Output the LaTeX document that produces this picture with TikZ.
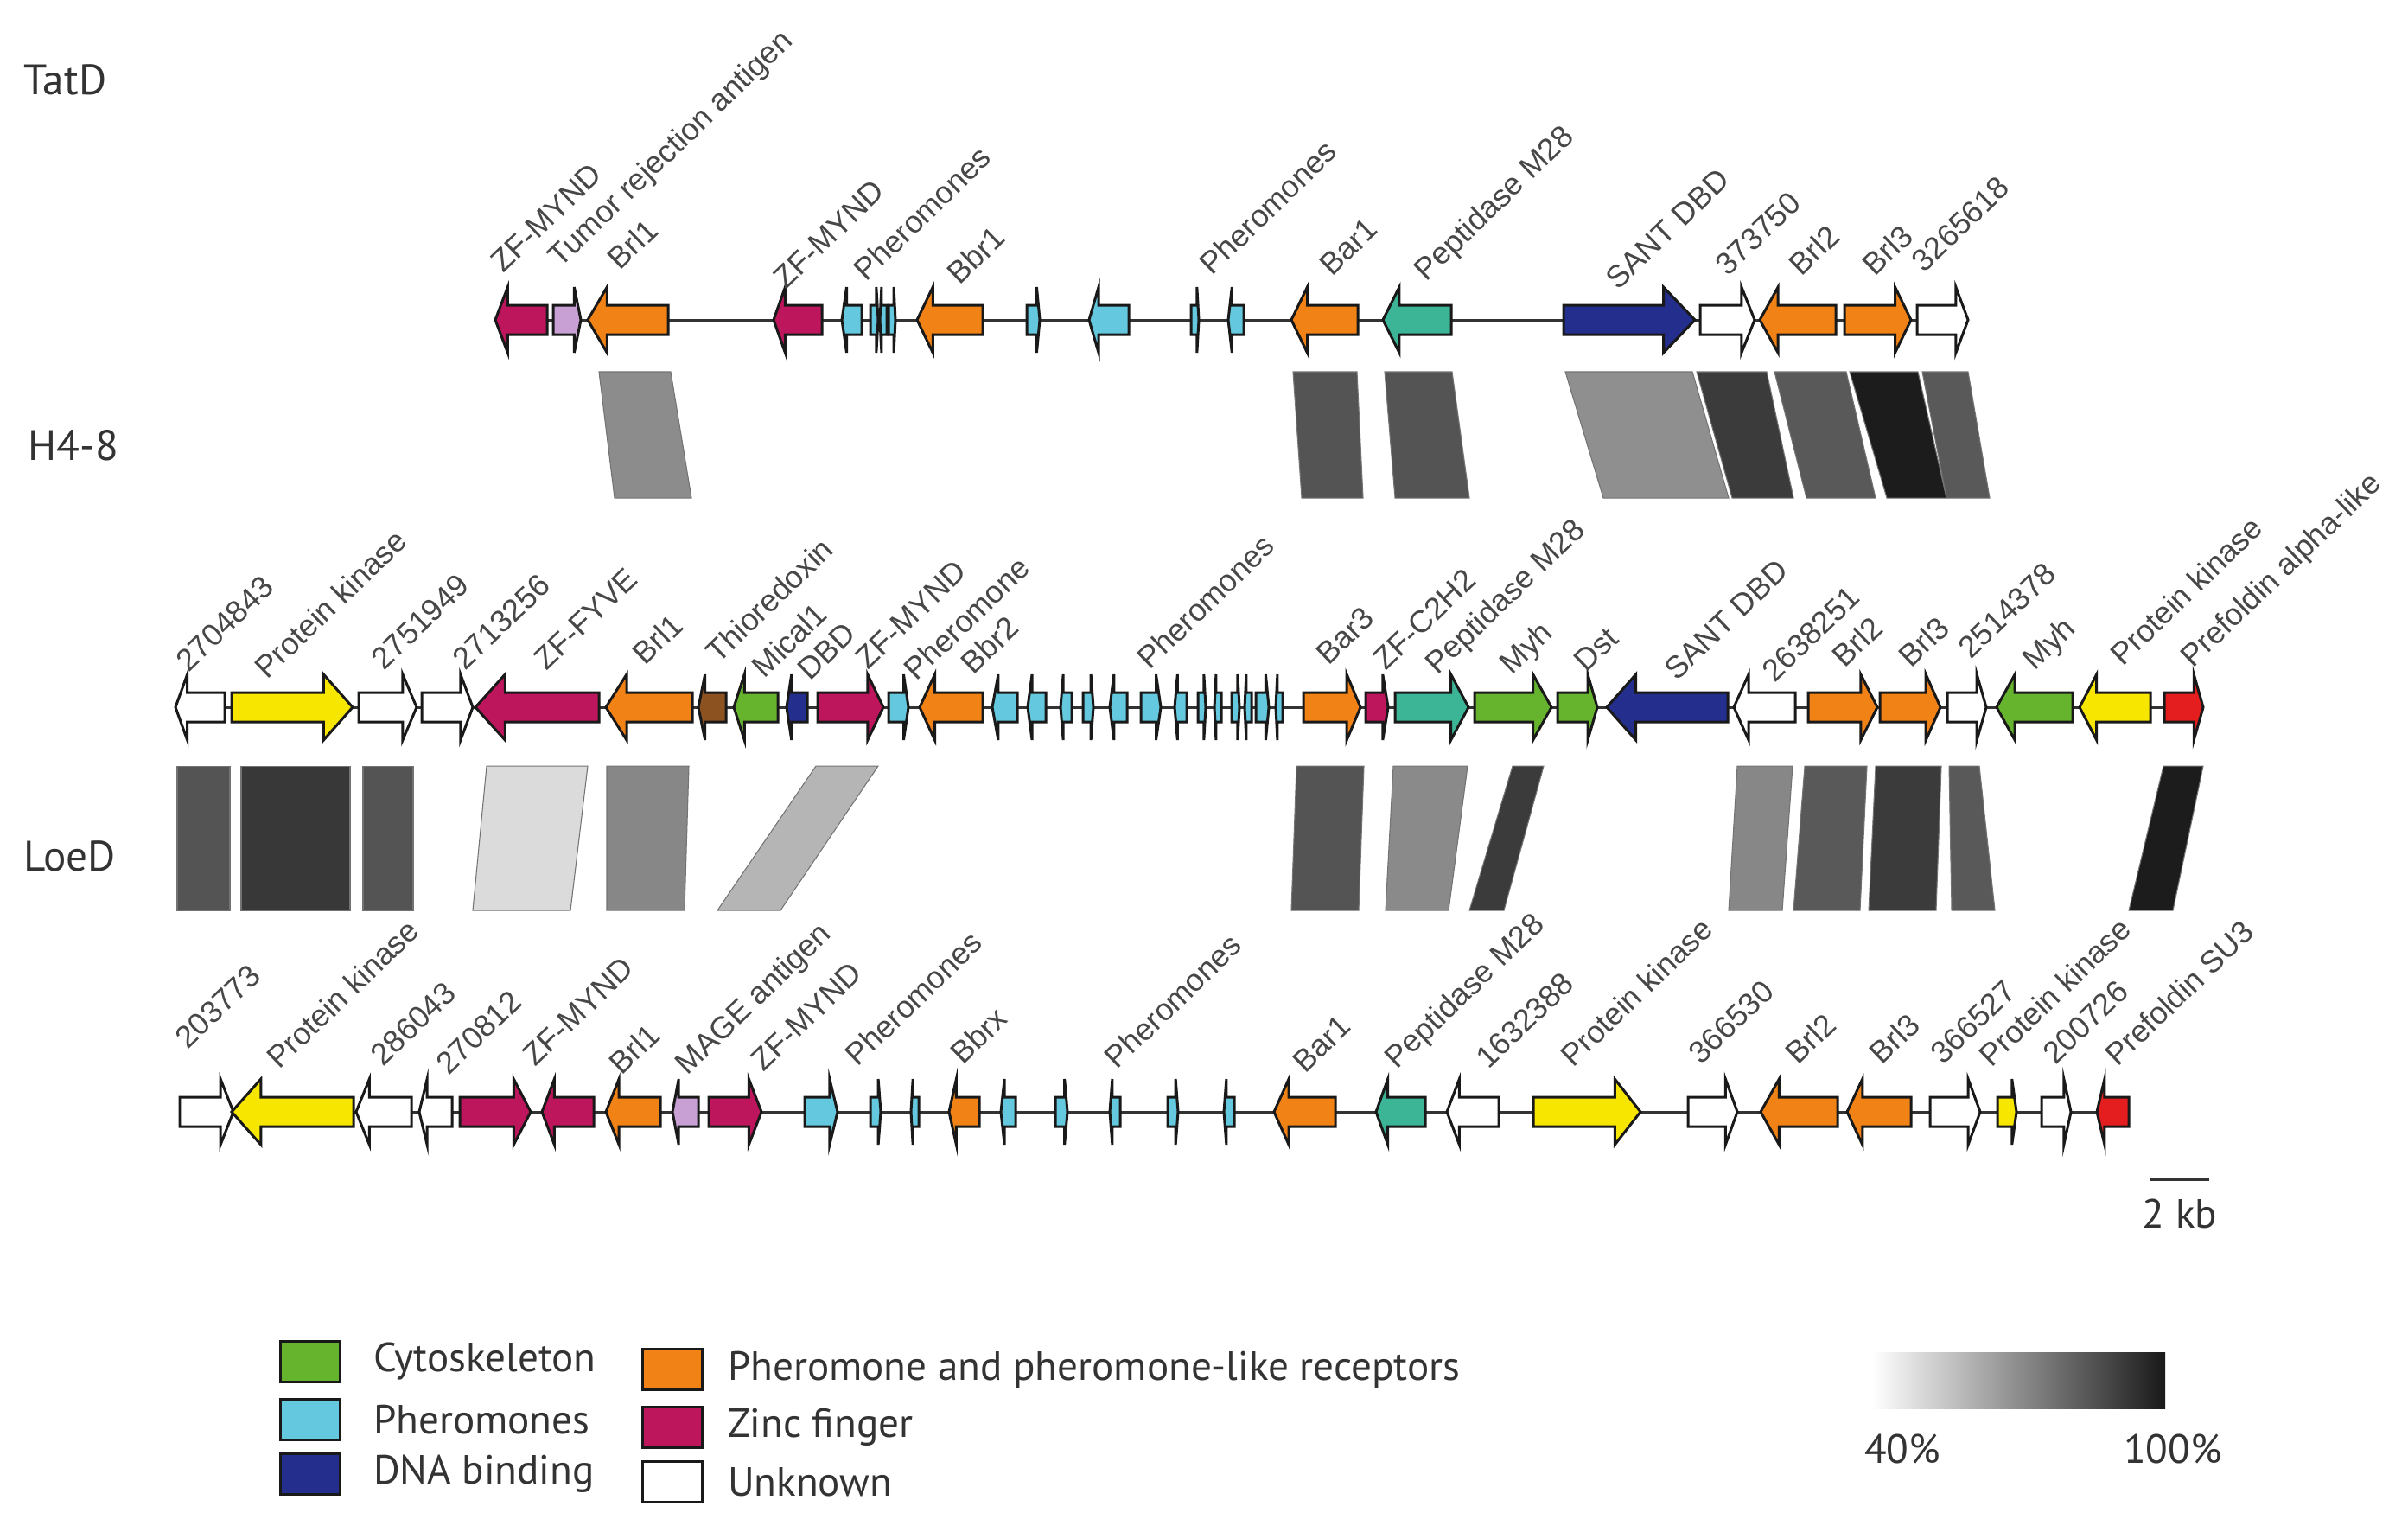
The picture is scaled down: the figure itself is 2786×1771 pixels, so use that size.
\documentclass[tikz,border=0pt]{standalone}
\usepackage{fontspec}
\setmainfont{Liberation Sans}
\newfontfamily\keyfont{PT Sans}
\usetikzlibrary{positioning}

% gene classes
\definecolor{zf}{RGB}{190,22,92}
\definecolor{lil}{RGB}{200,160,212}
\definecolor{orr}{RGB}{240,130,22}
\definecolor{phe}{RGB}{100,200,222}
\definecolor{pep}{RGB}{60,180,150}
\definecolor{dna}{RGB}{36,46,140}
\definecolor{yel}{RGB}{246,230,0}
\definecolor{cyt}{RGB}{102,180,46}
\definecolor{brn}{RGB}{140,82,32}
\definecolor{red}{RGB}{228,30,30}
\definecolor{unk}{RGB}{255,255,255}

\tikzset{gene/.style={draw=black!90, line width=0.85pt, line join=miter}}
\tikzset{spine/.style={draw=black!80, line width=0.85pt}}
\tikzset{lbl/.style={anchor=base west, rotate=44, inner sep=0pt, text=black!72,
    font=\fontsize{10.2}{12}\selectfont}}
\tikzset{blk/.style={draw=black!55, line width=0.3pt}}
\tikzset{key/.style={draw=black!90, line width=1pt, minimum width=0.69cm,
    minimum height=0.47cm, inner sep=0pt}}
\tikzset{keytxt/.style={anchor=west, inner sep=0pt, text=black!80,
    font=\keyfont\fontsize{13.4}{16}\selectfont}}
\tikzset{track/.style={anchor=west, inner sep=0pt, text=black!80,
    font=\keyfont\fontsize{14}{16}\selectfont}}

% gene arrow: y, start, end, direction (1 right, -1 left), colour
\newcommand{\gene}[5]{%
  \pgfmathsetmacro{\hd}{0.24*(#3-#2)}%
  \ifnum#4>0
    \filldraw[gene,fill=#5] (#2,#1-17) -- (#3-\hd,#1-17) -- (#3-\hd,#1-38)
      -- (#3,#1) -- (#3-\hd,#1+38) -- (#3-\hd,#1+17) -- (#2,#1+17) -- cycle;
  \else
    \filldraw[gene,fill=#5] (#3,#1-17) -- (#2+\hd,#1-17) -- (#2+\hd,#1-38)
      -- (#2,#1) -- (#2+\hd,#1+38) -- (#2+\hd,#1+17) -- (#3,#1+17) -- cycle;
  \fi}

\begin{document}
\begin{tikzpicture}[x=0.01cm,y=-0.01cm]
\useasboundingbox (0,0) rectangle (2786,1771);

% track names
\node[track] (tatd) at (27,92) {TatD};
\node[track] (h48) at (32,515) {H4-8};
\node[track] (loed) at (27,990) {LoeD};

% similarity blocks TatD - H4-8
\foreach \ta/\tb/\ba/\bb/\g in {693/776/711/800/45, 1496/1570/1506/1577/67,
    1602/1680/1614/1700/67, 1811/1958/1855/2000/44, 1963/2044/2004/2075/77,
    2053/2136/2090/2170/65, 2140/2219/2183/2252/89, 2224/2277/2252/2302/65}
  \filldraw[blk, fill=black!\g] (\ta,430) -- (\tb,430) -- (\bb,576) -- (\ba,576) -- cycle;

% similarity blocks H4-8 - LoeD
\foreach \ta/\tb/\ba/\bb/\g in {205/266/205/266/67, 279/405/279/405/78,
    420/478/420/478/67, 563/680/547/660/14, 702/797/702/792/47,
    944/1016/830/903/29, 1500/1578/1494/1572/67, 1612/1698/1603/1676/46,
    1750/1786/1700/1740/77, 2010/2074/2000/2062/47, 2088/2160/2075/2152/65,
    2170/2246/2162/2240/77, 2255/2290/2258/2308/65, 2503/2549/2463/2514/89}
  \filldraw[blk, fill=black!\g] (\ta,886) -- (\tb,886) -- (\bb,1053) -- (\ba,1053) -- cycle;

% TatD
\coordinate (tL) at (573,370);
\coordinate (tR) at (2277,370);
\draw[spine] (tL) -- (tR);
\foreach \xa/\xb/\dr/\cl in {573/633/-1/zf, 640/672/1/lil, 680/773/-1/orr,
    895/951/-1/zf, 974/997/-1/phe, 1007/1016/1/phe, 1018/1026/-1/phe,
    1028/1036/1/phe, 1061/1137/-1/orr, 1188/1203/1/phe, 1260/1306/-1/phe,
    1378/1387/1/phe, 1421/1439/-1/phe, 1494/1571/-1/orr, 1600/1679/-1/pep,
    1809/1961/1/dna, 1967/2030/1/unk, 2036/2124/-1/orr, 2134/2211/1/orr,
    2218/2277/1/unk}
  {\gene{370}{\xa}{\xb}{\dr}{\cl}}

\node[lbl] (t1) at (582,317) {ZF-MYND};
\node[lbl] (t2) at (648,311) {Tumor rejection antigen};
\node[lbl] (t3) at (717,314) {Brl1};
\node[lbl] (t4) at (909,336) {ZF-MYND};
\node[lbl] (t5) at (1002,327) {Pheromones};
\node[lbl] (t6) at (1110,331) {Bbr1};
\node[lbl] (t7) at (1402,320) {Pheromones};
\node[lbl] (t8) at (1541,321) {Bar1};
\node[lbl] (t9) at (1650,327) {Peptidase M28};
\node[lbl] (t10) at (1872,337) {SANT DBD};
\node[lbl] (t11) at (1999,321) {373750};
\node[lbl] (t12) at (2084,321) {Brl2};
\node[lbl] (t13) at (2169,321) {Brl3};
\node[lbl] (t14) at (2226,317) {3265618};

% H4-8
\coordinate (mL) at (203,818);
\coordinate (mR) at (2549,818);
\draw[spine] (mL) -- (mR);
\foreach \xa/\xb/\dr/\cl in {203/260/-1/unk, 268/408/1/yel, 415/482/1/unk,
    488/547/1/unk, 550/693/-1/zf, 701/801/-1/orr, 808/840/-1/brn,
    849/900/-1/cyt, 910/934/-1/dna, 946/1022/1/zf, 1028/1051/1/phe,
    1064/1137/-1/orr, 1148/1177/-1/phe, 1189/1210/-1/phe, 1227/1240/-1/phe,
    1253/1265/1/phe, 1284/1304/-1/phe, 1320/1343/1/phe, 1359/1373/-1/phe,
    1386/1395/1/phe, 1405/1413/-1/phe, 1425/1434/1/phe, 1440/1448/-1/phe,
    1453/1468/1/phe, 1476/1484/-1/phe, 1508/1574/1/orr, 1580/1606/1/zf,
    1614/1699/1/pep, 1706/1795/1/cyt, 1802/1848/1/cyt, 1859/1999/-1/dna,
    2006/2077/-1/unk, 2092/2172/1/orr, 2175/2245/1/orr, 2253/2298/1/unk,
    2310/2398/-1/cyt, 2406/2488/-1/yel, 2504/2549/1/red}
  {\gene{818}{\xa}{\xb}{\dr}{\cl}}

\node[lbl] (m1) at (218,779) {2704843};
\node[lbl] (m2) at (309,787) {Protein kinase};
\node[lbl] (m3) at (444,777) {2751949};
\node[lbl] (m4) at (538,777) {2713256};
\node[lbl] (m5) at (632,777) {ZF-FYVE};
\node[lbl] (m6) at (746,771) {Brl1};
\node[lbl] (m7) at (831,769) {Thioredoxin};
\node[lbl] (m8) at (884,786) {Mical1};
\node[lbl] (m9) at (937,789) {DBD};
\node[lbl] (m10) at (1004,776) {ZF-MYND};
\node[lbl] (m11) at (1060,789) {Pheromone};
\node[lbl] (m12) at (1126,782) {Bbr2};
\node[lbl] (m13) at (1330,776) {Pheromones};
\node[lbl] (m14) at (1537,771) {Bar3};
\node[lbl] (m15) at (1603,777) {ZF-C2H2};
\node[lbl] (m16) at (1663,782) {Peptidase M28};
\node[lbl] (m17) at (1749,782) {Myh};
\node[lbl] (m18) at (1835,779) {Dst};
\node[lbl] (m19) at (1940,789) {SANT DBD};
\node[lbl] (m20) at (2053,791) {2638251};
\node[lbl] (m21) at (2134,774) {Brl2};
\node[lbl] (m22) at (2211,774) {Brl3};
\node[lbl] (m23) at (2280,764) {2514378};
\node[lbl] (m24) at (2354,777) {Myh};
\node[lbl] (m25) at (2456,772) {Protein kinase};
\node[lbl] (m26) at (2537,774) {Prefoldin alpha-like};

% LoeD
\coordinate (bL) at (208,1286);
\coordinate (bR) at (2463,1286);
\draw[spine] (bL) -- (bR);
\foreach \xa/\xb/\dr/\cl in {208/270/1/unk, 268/409/-1/yel, 412/476/-1/unk,
    485/523/-1/unk, 532/614/1/zf, 627/687/-1/zf, 701/764/-1/orr,
    778/808/-1/lil, 820/881/1/zf, 931/969/1/phe, 1007/1019/1/phe,
    1054/1063/-1/phe, 1098/1133/-1/orr, 1158/1175/-1/phe, 1221/1235/1/phe,
    1284/1296/-1/phe, 1351/1363/1/phe, 1416/1428/-1/phe, 1474/1545/-1/orr,
    1592/1649/-1/pep, 1674/1734/-1/unk, 1774/1898/1/yel, 1953/2010/1/unk,
    2037/2126/-1/orr, 2137/2211/-1/orr, 2233/2291/1/unk, 2311/2333/1/yel,
    2362/2396/1/unk, 2426/2463/-1/red}
  {\gene{1286}{\xa}{\xb}{\dr}{\cl}}

\node[lbl] (b1) at (217,1215) {203773};
\node[lbl] (b2) at (323,1238) {Protein kinase};
\node[lbl] (b3) at (443,1235) {286043};
\node[lbl] (b4) at (519,1245) {270812};
\node[lbl] (b5) at (619,1235) {ZF-MYND};
\node[lbl] (b6) at (719,1245) {Brl1};
\node[lbl] (b7) at (795,1245) {MAGE antigen};
\node[lbl] (b8) at (883,1241) {ZF-MYND};
\node[lbl] (b9) at (992,1235) {Pheromones};
\node[lbl] (b10) at (1114,1233) {Bbrx};
\node[lbl] (b11) at (1292,1238) {Pheromones};
\node[lbl] (b12) at (1510,1243) {Bar1};
\node[lbl] (b13) at (1616,1238) {Peptidase M28};
\node[lbl] (b14) at (1722,1238) {1632388};
\node[lbl] (b15) at (1820,1236) {Protein kinase};
\node[lbl] (b16) at (1968,1233) {366530};
\node[lbl] (b17) at (2080,1233) {Brl2};
\node[lbl] (b18) at (2177,1233) {Brl3};
\node[lbl] (b19) at (2248,1233) {366527};
\node[lbl] (b20) at (2304,1236) {Protein kinase};
\node[lbl] (b21) at (2378,1233) {200726};
\node[lbl] (b22) at (2450,1235) {Prefoldin SU3};

% scale bar
\coordinate (sbL) at (2488,1364);
\coordinate (sbR) at (2556,1364);
\draw[line width=1.2pt, black!80] (sbL) -- (sbR);
\node[keytxt, anchor=center] (sb) at (2522,1404) {2 kb};

% legend
\node[key, fill=cyt] (kcyt) at (359,1575) {};
\node[key, fill=phe] (kphe) at (359,1642) {};
\node[key, fill=dna] (kdna) at (359,1705) {};
\node[key, fill=orr] (korr) at (778,1584) {};
\node[key, fill=zf] (kzf) at (778,1651) {};
\node[key, fill=unk] (kunk) at (778,1714) {};
\node[keytxt, right=0.36cm of kcyt] (tcyt) {Cytoskeleton};
\node[keytxt, right=0.36cm of kphe] (tphe) {Pheromones};
\node[keytxt, right=0.36cm of kdna] (tdna) {DNA binding};
\node[keytxt, right=0.27cm of korr] (torr) {Pheromone and pheromone-like receptors};
\node[keytxt, right=0.27cm of kzf] (tzf) {Zinc finger};
\node[keytxt, right=0.27cm of kunk] (tunk) {Unknown};

% identity gradient
\shade[left color=white, right color=black!90] (2166,1564) rectangle (2505,1629);
\node[keytxt, anchor=center] (p40) at (2201,1676) {40\%};
\node[keytxt, anchor=center] (p100) at (2514,1676) {100\%};
\end{tikzpicture}
\end{document}
